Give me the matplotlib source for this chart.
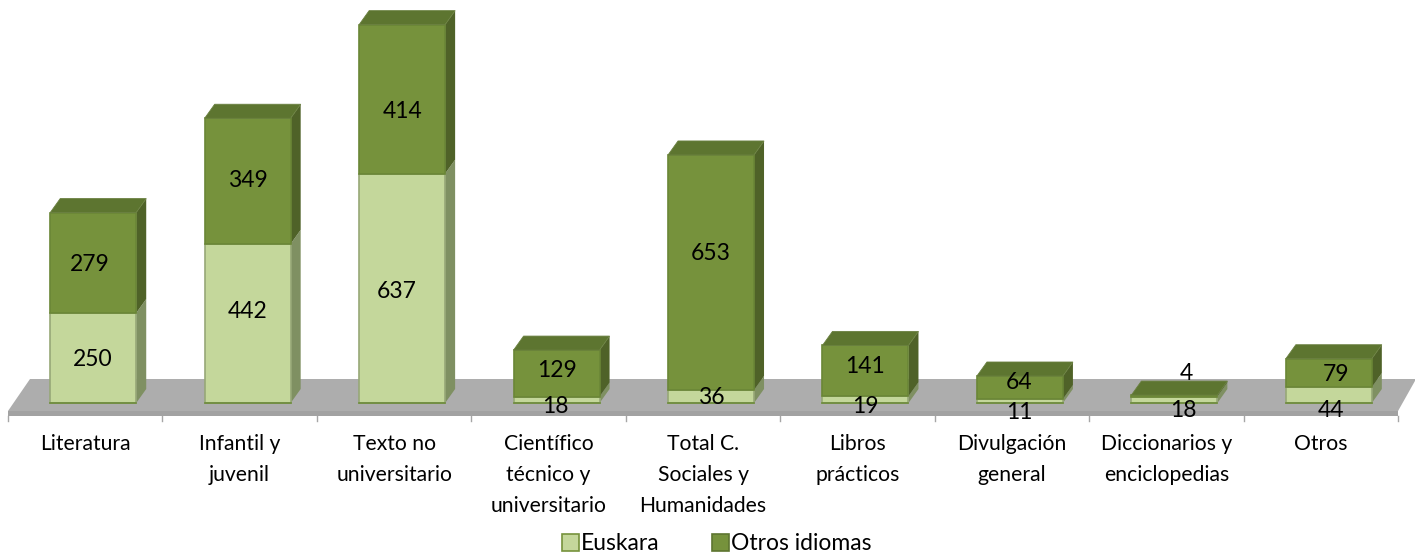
import matplotlib
matplotlib.use("Agg")
import matplotlib.pyplot as plt
from matplotlib.patches import Polygon, Patch

plt.rcParams['font.family'] = ['Lato', 'DejaVu Sans']

categories = ['Literatura', 'Infantil y\njuvenil', 'Texto no\nuniversitario',
              'Científico\ntécnico y\nuniversitario', 'Total C.\nSociales y\nHumanidades',
              'Libros\nprácticos', 'Divulgación\ngeneral', 'Diccionarios y\nenciclopedias', 'Otros']
euskara = [250, 442, 637, 18, 36, 19, 11, 18, 44]
otros = [279, 349, 414, 129, 653, 141, 64, 4, 79]

# label nudges in pixels, the labels do not sit quite on the segment centres
nudge_eus_x = [-1, 0, -5, -1, 0, 0, -1, 9, 2]
nudge_eus_y = [2, -12, 3, 7, 1, 7, 11, 11, 15]
nudge_otr_x = [-3, 0, 0, 0, 0, 0, -1, 12, 7]
nudge_otr_y = [2, -1, 12, -3, -19, -4, -5, -22, 2]

W, H = 1415, 559
BASE_PX = 403
PX_PER_UNIT = 0.36
PX_PER_CAT = 154.45
LEFT_PX = 8

fig = plt.figure(figsize=(W / 100, H / 100), dpi=100)
ax = fig.add_axes([0, 0, 1, 1])
ax.set_xlim(-LEFT_PX / PX_PER_CAT, (W - LEFT_PX) / PX_PER_CAT)
ax.set_ylim(-(H - BASE_PX) / PX_PER_UNIT, BASE_PX / PX_PER_UNIT)
ax.axis('off')


def dx(px):
    return px / PX_PER_CAT


def dy(px):
    return px / PX_PER_UNIT


n = len(categories)
depth_x, depth_y = dx(10), dy(14)

# floor
floor_top = dy(24)
floor_front = -dy(8)
floor_low = -dy(13)
ax.add_patch(Polygon([(0, floor_front), (dx(22), floor_top), (n + dx(18), floor_top), (n, floor_front)],
                     fc='#adadad', ec='none', zorder=1))
ax.add_patch(Polygon([(0, floor_front), (n, floor_front), (n, floor_low), (0, floor_low)],
                     fc='#a2a2a2', ec='none', zorder=1))
for i in range(n + 1):
    ax.plot([i, i], [floor_low, floor_low - dy(5)], color='#a6a6a6', lw=1, zorder=1)


def box(x0, x1, y0, y1, face, side, edge, z):
    ax.add_patch(Polygon([(x1, y0), (x1 + depth_x, y0 + depth_y), (x1 + depth_x, y1 + depth_y), (x1, y1)],
                         fc=side, ec='none', zorder=z))
    ax.add_patch(Polygon([(x0, y0), (x1, y0), (x1, y1), (x0, y1)],
                         fc=face, ec=edge, lw=1.2, zorder=z + 1))


half = dx(43)
for i in range(n):
    c = i + 0.5 + dx(8)
    e, o = euskara[i], otros[i]
    box(c - half, c + half, 0, e, '#c4d79b', '#7f9062', '#97a877', 3)
    ax.plot([c - half, c + half], [0, 0], color='#6c8a3a', lw=1.2, zorder=5)
    box(c - half, c + half, e, e + o, '#76923c', '#4f6228', '#6a8636', 6)
    t = e + o
    ax.add_patch(Polygon([(c - half, t), (c + half, t), (c + half + depth_x, t + depth_y), (c - half + depth_x, t + depth_y)],
                         fc='#5d7530', ec='#6a8040', lw=0.6, zorder=8))
    ax.text(c + dx(nudge_eus_x[i]), e / 2 - dy(nudge_eus_y[i]), str(e), ha='center', va='center',
            fontsize=16.5, color='black', zorder=10)
    ax.text(c + dx(nudge_otr_x[i]), e + o / 2 - dy(nudge_otr_y[i]), str(o), ha='center', va='center',
            fontsize=16.5, color='black', zorder=10)
    ax.text(i + 0.5, -dy(30.5), categories[i], ha='center', va='top', fontsize=15.2, color='black',
            linespacing=1.7, zorder=10)

handles = [Patch(fc='#c4d79b', ec='#76923c', lw=1.2, label='Euskara'),
           Patch(fc='#76923c', ec='#5d7530', lw=1.2, label='Otros idiomas')]
ax.legend(handles=handles, ncol=2, loc='center', bbox_to_anchor=(717 / W, 1 - 544 / H), frameon=False,
          fontsize=16.5, handlelength=0.72, handleheight=0.72, handletextpad=0.1, columnspacing=2.3,
          borderpad=0, labelspacing=0)

fig.savefig('out.png', dpi=100)
